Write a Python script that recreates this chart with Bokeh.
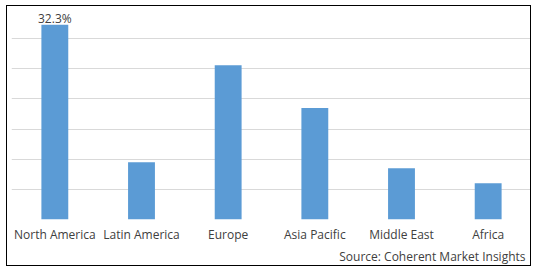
from bokeh.plotting import figure
from bokeh.models import ColumnDataSource, FactorRange, Range1d, Title, SingleIntervalTicker
from bokeh.core.properties import value
from bokeh.embed import file_html
from bokeh.resources import INLINE

regions = ["North America", "Latin America", "Europe", "Asia Pacific", "Middle East", "Africa"]
shares = [32.3, 9.5, 25.6, 18.5, 8.5, 6.0]
data_labels = ["32.3%", "", "", "", "", ""]
source_text = "Source: Coherent Market Insights"

FONT = "Open Sans"
TEXT_COLOR = "#404040"

src = ColumnDataSource(dict(region=regions, share=shares, label=data_labels))

p = figure(
    x_range=FactorRange(*regions, range_padding=0),
    y_range=Range1d(0, 35),
    width=525, height=261,
    output_backend="svg", toolbar_location=None,
    min_border_left=4, min_border_right=1, min_border_top=2, min_border_bottom=48,
    margin=(5, 0, 0, 6),
    styles={"border": "1px solid black"},
)
p.outline_line_color = None
p.background_fill_color = "white"
p.border_fill_color = "white"

p.vbar(x="region", top="share", width=0.31, source=src, color="#5B9BD5", line_color=None)
p.text(x="region", y="share", text="label", source=src, text_align="center",
       text_baseline="alphabetic", y_offset=-6, text_font=value(FONT),
       text_font_size="12px", text_color=TEXT_COLOR)

p.yaxis.visible = False
p.ygrid.ticker = SingleIntervalTicker(interval=5)
p.ygrid.grid_line_color = "#D9D9D9"
p.ygrid.grid_line_width = 1
p.xgrid.grid_line_color = None

ax = p.xaxis[0]
ax.axis_line_color = None
ax.major_tick_line_color = None
ax.minor_tick_line_color = None
ax.major_tick_out = 0
ax.major_tick_in = 0
ax.major_label_standoff = 6
ax.major_label_text_font = FONT
ax.major_label_text_font_size = "12px"
ax.major_label_text_color = TEXT_COLOR

p.add_layout(Title(text=source_text, align="right", text_font=FONT, text_font_size="12px",
                   text_font_style="normal", text_color=TEXT_COLOR, offset=6, standoff=0,
                   text_line_height=1.0), "below")

with open("out.html", "w") as f:
    f.write(file_html(p, INLINE))
